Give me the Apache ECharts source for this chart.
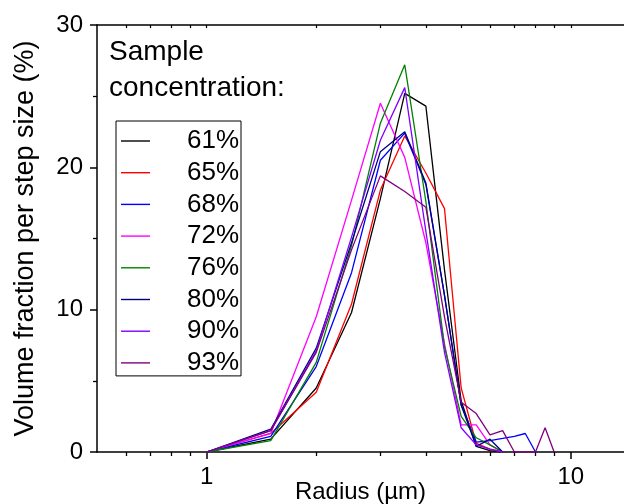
<!DOCTYPE html>
<html><head><meta charset="utf-8">
<script src="https://cdn.jsdelivr.net/npm/echarts@6/dist/echarts.min.js"></script>
<style>html,body{margin:0;padding:0;background:#fff}#c{width:624px;height:504px}</style>
</head><body><div id="c"></div>
<script>
// Radius (µm) sample points
const radius = [1, 1.5, 2, 2.5, 3, 3.5, 4, 4.5, 5, 5.5, 6, 6.5, 7, 7.5, 8, 8.5, 9];
// Volume fraction per step size (%) for each sample concentration
const s61 = [0, 0.9, 4.5, 9.8, 17.8, 25.2, 24.3, 12.8, 3.6, 0.4, 0.1, 0, null, null, null, null, null];
const s65 = [0, 1.3, 4.2, 10.4, 18.4, 22.2, 19.6, 17.1, 4.5, 0.6, 0.2, 0, null, null, null, null, null];
const s68 = [0, 1.1, 6.0, 12.6, 20.5, 22.4, 18.8, 11.0, 3.3, 0.7, 0.8, 0.95, 1.1, 1.3, 0, null, null];
const s72 = [0, 1.3, 9.5, 17.7, 24.5, 20.7, 14.7, 7.6, 1.9, 1.9, 0.5, 0, null, null, null, null, null];
const s76 = [0, 0.8, 6.3, 14.5, 23.1, 27.2, 17.6, 7.4, 2.5, 1.0, 0.5, 0, null, null, null, null, null];
const s80 = [0, 1.6, 7.3, 14.7, 21.1, 22.5, 18.9, 11.0, 3.3, 0.4, 0.9, 0, null, null, null, null, null];
const s90 = [0, 1.5, 7.1, 15.1, 21.9, 25.6, 15.5, 7.0, 1.7, 0.5, 0.2, 0, null, null, null, null, null];
const s93 = [0, 1.5, 7.0, 14.2, 19.4, 18.3, 17.2, 9.5, 3.5, 2.7, 1.2, 1.5, 0, 0, 0, 1.7, 0];

const seriesNames = ['61%', '65%', '68%', '72%', '76%', '80%', '90%', '93%'];
const seriesValues = [s61, s65, s68, s72, s76, s80, s90, s93];
const seriesColors = ['#000000', '#ff0000', '#0000ff', '#ff00ff', '#008000', '#000080', '#8000ff', '#800080'];

const xMajorTicks = [1, 10];
const xMinorTicks = [0.6, 0.7, 0.8, 0.9, 2, 3, 4, 5, 6, 7, 8, 9];
const xAllTicks = [0.6, 0.7, 0.8, 0.9, 1, 2, 3, 4, 5, 6, 7, 8, 9, 10];

const FONT = "'Liberation Sans', Arial, sans-serif";
const chart = echarts.init(document.getElementById('c'), null, {renderer: 'canvas'});

const series = seriesNames.map((name, i) => ({
  name: name,
  type: 'line',
  xAxisIndex: 0,
  yAxisIndex: 0,
  symbol: 'none',
  lineStyle: {color: seriesColors[i], width: 1.3},
  itemStyle: {color: seriesColors[i]},
  data: radius.map((r, j) => [r, seriesValues[i][j]]).filter(p => p[1] !== null),
  animation: false,
  z: 3
}));

const baseLog = {type: 'log', logBase: 10, min: 0.5, max: 14, gridIndex: 0, splitLine: {show: false}, nameMoveOverlap: false};

chart.setOption({
  animation: false,
  textStyle: {fontFamily: FONT},
  title: {
    text: 'Sample\nconcentration:',
    left: 109, top: 34, padding: 0,
    textStyle: {fontFamily: FONT, fontSize: 28, fontWeight: 'normal', lineHeight: 36, color: '#000'}
  },
  legend: {
    orient: 'vertical',
    left: 116, top: 121,
    padding: [7, 2, 0, 5],
    itemGap: 5.7,
    icon: 'rect',
    itemWidth: 29, itemHeight: 1.4,
    borderColor: '#000', borderWidth: 1,
    data: seriesNames,
    formatter: name => '{a|' + name + '}',
    textStyle: {
      fontFamily: FONT, fontSize: 26, color: '#000',
      rich: {a: {fontFamily: FONT, fontSize: 26, width: 84, align: 'right'}}
    }
  },
  grid: {left: 97, right: 0, top: 25, bottom: 52, containLabel: false, outerBoundsMode: 'none'},
  xAxis: [
    Object.assign({}, baseLog, {
      position: 'bottom',
      name: 'Radius (µm)', nameLocation: 'middle', nameGap: 28,
      nameTextStyle: {fontFamily: FONT, fontSize: 24, color: '#000'},
      axisLine: {show: true, lineStyle: {color: '#000', width: 1.5}},
      axisTick: {show: true, inside: false, length: 7, lineStyle: {width: 1.5}, customValues: xMajorTicks},
      axisLabel: {show: true, margin: 13, fontFamily: FONT, fontSize: 24, color: '#000', customValues: xMajorTicks},
      minorTick: {show: false}
    }),
    Object.assign({}, baseLog, {
      position: 'bottom',
      axisLine: {show: false},
      axisTick: {show: true, inside: false, length: 4, lineStyle: {color: '#000', width: 1.3}, customValues: xMinorTicks},
      axisLabel: {show: false}
    }),
    Object.assign({}, baseLog, {
      position: 'top',
      axisLine: {show: true, lineStyle: {color: '#000', width: 1.5}},
      axisTick: {show: true, inside: true, length: 3, lineStyle: {color: '#000', width: 1.2}, customValues: xAllTicks},
      axisLabel: {show: false}
    })
  ],
  yAxis: [{
    type: 'value', min: 0, max: 30, interval: 10, gridIndex: 0,
    name: 'Volume fraction per step size (%)', nameLocation: 'middle', nameGap: 58, nameRotate: 90,
    nameMoveOverlap: false,
    nameTextStyle: {fontFamily: FONT, fontSize: 27, color: '#000'},
    axisLine: {show: true, onZero: false, lineStyle: {color: '#000', width: 1.5}},
    axisTick: {show: true, inside: false, length: 7, lineStyle: {width: 1.5}},
    minorTick: {show: true, splitNumber: 2, length: 4, lineStyle: {color: '#000', width: 1.3}},
    axisLabel: {margin: 14, fontFamily: FONT, fontSize: 24, color: '#000'},
    splitLine: {show: false}
  }],
  series: series
});
</script>
</body></html>
